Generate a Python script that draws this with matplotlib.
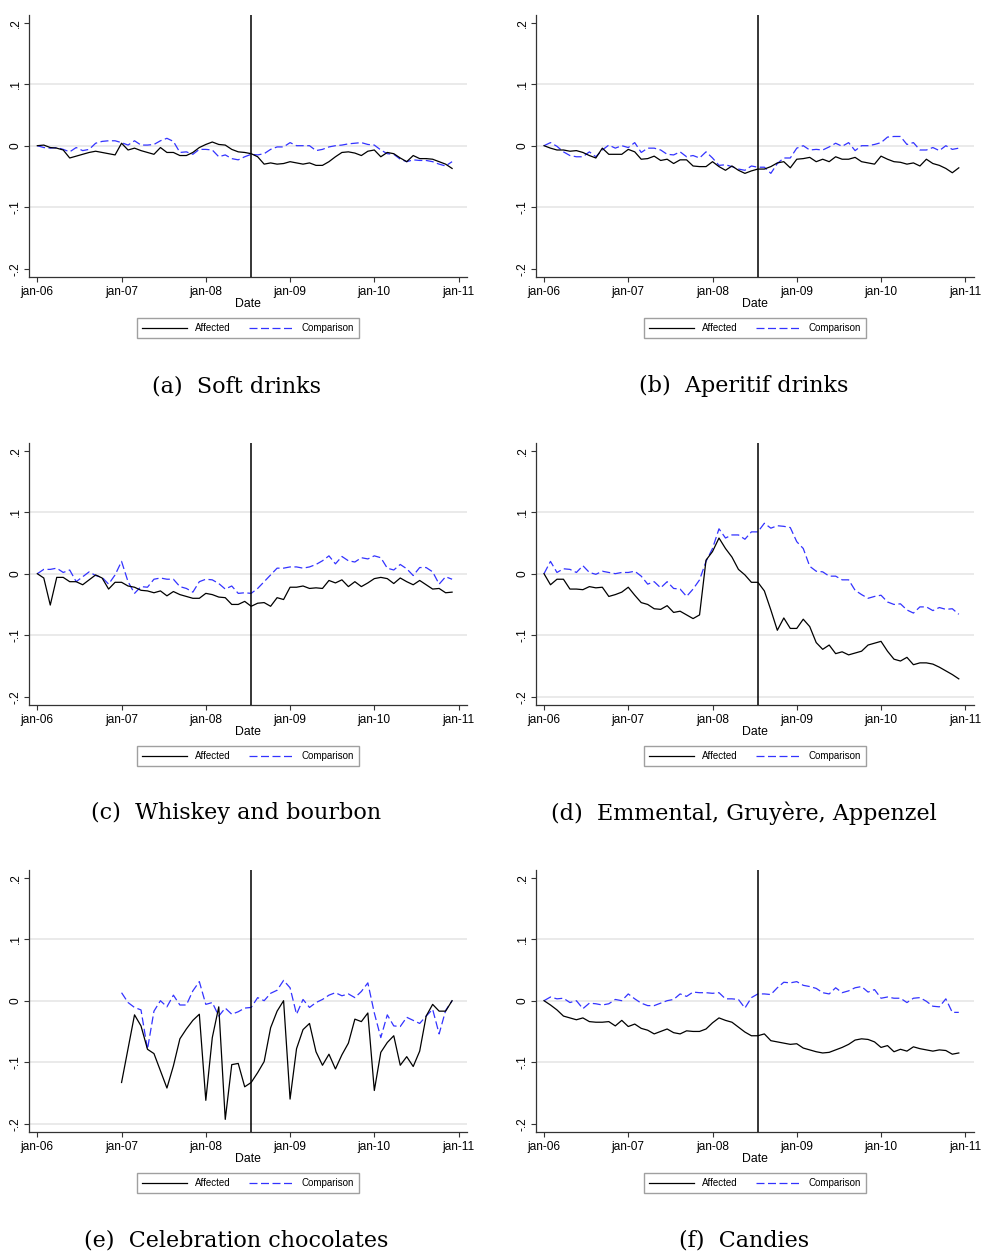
import numpy as np
import matplotlib
matplotlib.use("Agg")
import matplotlib.pyplot as plt

# 4-week periods, 13 per year, jan-06 .. dec-10
n_per = 65
years = [2006, 2007, 2008, 2009, 2010, 2011]
year_labels = ["jan-06", "jan-07", "jan-08", "jan-09", "jan-10", "jan-11"]
y_ticks = [-0.2, -0.1, 0, 0.1, 0.2]
y_labels = ["-.2", "-.1", "0", ".1", ".2"]
event_date = 2008.54

soft_aff = [0, 0.001, -0.003, -0.004, -0.007, -0.02, -0.017, -0.014, -0.011, -0.009,
            -0.011, -0.013, -0.015, 0.004, -0.007, -0.004, -0.008, -0.011, -0.014, -0.003,
            -0.011, -0.011, -0.016, -0.016, -0.011, -0.003, 0.002, 0.006, 0.002, 0.001,
            -0.006, -0.01, -0.011, -0.013, -0.018, -0.03, -0.028, -0.030, -0.029, -0.026,
            -0.028, -0.030, -0.028, -0.032, -0.032, -0.026, -0.018, -0.011, -0.010, -0.012,
            -0.016, -0.009, -0.007, -0.018, -0.011, -0.013, -0.020, -0.026, -0.016, -0.021,
            -0.021, -0.022, -0.026, -0.030, -0.037]
soft_cmp = [0, -0.003, -0.004, -0.003, -0.006, -0.01, -0.003, -0.008, -0.006, 0.004,
            0.007, 0.008, 0.008, 0.005, 0.001, 0.008, 0.001, 0.001, 0.002, 0.008,
            0.012, 0.007, -0.011, -0.01, -0.014, -0.006, -0.006, -0.007, -0.018, -0.015,
            -0.021, -0.023, -0.018, -0.014, -0.015, -0.013, -0.006, -0.002, -0.002, 0.005,
            0.0, 0.0, 0.0, -0.008, -0.006, -0.002, 0.0, 0.001, 0.003, 0.004,
            0.005, 0.002, 0.001, -0.007, -0.013, -0.014, -0.022, -0.026, -0.023, -0.024,
            -0.024, -0.026, -0.030, -0.033, -0.026]

aper_aff = [0, -0.004, -0.007, -0.007, -0.009, -0.008, -0.011, -0.016, -0.02, -0.004,
            -0.014, -0.014, -0.014, -0.006, -0.01, -0.022, -0.021, -0.017, -0.024, -0.022,
            -0.029, -0.023, -0.023, -0.033, -0.034, -0.034, -0.026, -0.034, -0.04, -0.033,
            -0.04, -0.045, -0.041, -0.038, -0.038, -0.034, -0.028, -0.026, -0.036, -0.022,
            -0.021, -0.019, -0.026, -0.022, -0.026, -0.018, -0.022, -0.022, -0.019, -0.026,
            -0.028, -0.030, -0.017, -0.022, -0.026, -0.027, -0.030, -0.028, -0.033, -0.022,
            -0.029, -0.032, -0.037, -0.044, -0.036]
aper_cmp = [0, 0.005, -0.001, -0.01, -0.016, -0.018, -0.018, -0.01, -0.018, -0.007,
            0.001, -0.004, 0.0, -0.003, 0.005, -0.011, -0.004, -0.004, -0.007, -0.014,
            -0.015, -0.01, -0.018, -0.016, -0.02, -0.01, -0.02, -0.032, -0.031, -0.034,
            -0.038, -0.04, -0.033, -0.035, -0.035, -0.045, -0.029, -0.02, -0.02, -0.004,
            0.0, -0.007, -0.006, -0.007, -0.002, 0.004, -0.001, 0.005, -0.008, 0.0,
            0.0, 0.002, 0.005, 0.014, 0.015, 0.015, 0.002, 0.005, -0.007, -0.007,
            -0.003, -0.008, 0.0, -0.006, -0.004]

whisk_aff = [0, -0.007, -0.051, -0.006, -0.006, -0.013, -0.013, -0.018, -0.01, -0.002,
             -0.007, -0.025, -0.014, -0.014, -0.02, -0.022, -0.027, -0.028, -0.031, -0.028,
             -0.036, -0.029, -0.034, -0.037, -0.04, -0.04, -0.032, -0.034, -0.038, -0.039,
             -0.05, -0.05, -0.045, -0.053, -0.048, -0.047, -0.053, -0.039, -0.042, -0.022,
             -0.022, -0.02, -0.024, -0.023, -0.024, -0.011, -0.015, -0.01, -0.021, -0.013,
             -0.021, -0.015, -0.008, -0.006, -0.008, -0.016, -0.007, -0.013, -0.018, -0.011,
             -0.018, -0.025, -0.024, -0.031, -0.030]
whisk_cmp = [0, 0.007, 0.007, 0.009, 0.002, 0.006, -0.013, -0.005, 0.003, -0.003,
             -0.006, -0.017, -0.002, 0.02, -0.013, -0.032, -0.021, -0.022, -0.009, -0.007,
             -0.009, -0.009, -0.021, -0.024, -0.03, -0.013, -0.009, -0.01, -0.016, -0.025,
             -0.02, -0.032, -0.031, -0.032, -0.024, -0.013, -0.002, 0.009, 0.009, 0.011,
             0.011, 0.009, 0.011, 0.015, 0.021, 0.029, 0.016, 0.028, 0.021, 0.019,
             0.026, 0.024, 0.029, 0.026, 0.009, 0.006, 0.015, 0.008, -0.003, 0.01,
             0.01, 0.003, -0.017, -0.005, -0.009]

emm_aff = [0, -0.018, -0.009, -0.009, -0.025, -0.025, -0.026, -0.021, -0.023, -0.022,
           -0.037, -0.034, -0.03, -0.022, -0.035, -0.047, -0.05, -0.057, -0.058, -0.052,
           -0.063, -0.061, -0.067, -0.073, -0.067, 0.022, 0.036, 0.058, 0.041, 0.027,
           0.007, -0.002, -0.014, -0.014, -0.028, -0.059, -0.092, -0.072, -0.089, -0.089,
           -0.074, -0.086, -0.112, -0.123, -0.116, -0.13, -0.127, -0.132, -0.129, -0.126,
           -0.116, -0.113, -0.11, -0.126, -0.139, -0.142, -0.136, -0.148, -0.145, -0.145,
           -0.147, -0.152, -0.158, -0.164, -0.171]
emm_cmp = [0, 0.02, 0.002, 0.008, 0.007, 0.002, 0.013, 0.002, -0.001, 0.004,
           0.002, 0.0, 0.002, 0.002, 0.004, -0.004, -0.017, -0.013, -0.023, -0.013,
           -0.024, -0.025, -0.037, -0.025, -0.01, 0.02, 0.041, 0.073, 0.058, 0.063,
           0.063, 0.056, 0.068, 0.068, 0.082, 0.074, 0.078, 0.077, 0.075, 0.052,
           0.041, 0.012, 0.004, 0.003, -0.004, -0.004, -0.01, -0.01, -0.027, -0.034,
           -0.04, -0.037, -0.035, -0.046, -0.05, -0.049, -0.059, -0.064, -0.054, -0.054,
           -0.06, -0.055, -0.058, -0.057, -0.066]

choc_aff = [None] * 13 + [
    -0.133, -0.078, -0.023, -0.041, -0.079, -0.086, -0.114, -0.142, -0.106, -0.062,
    -0.046, -0.032, -0.022, -0.162, -0.06, -0.01, -0.193, -0.104, -0.102, -0.14,
    -0.133, -0.117, -0.099, -0.044, -0.017, 0.0, -0.16, -0.078, -0.047, -0.037,
    -0.083, -0.105, -0.087, -0.111, -0.088, -0.069, -0.03, -0.034, -0.02, -0.146,
    -0.084, -0.068, -0.057, -0.105, -0.091, -0.107, -0.082, -0.025, -0.006, -0.017,
    -0.017, 0.0]
choc_cmp = [None] * 13 + [
    0.013, -0.003, -0.011, -0.015, -0.079, -0.017, 0.0, -0.01, 0.009, -0.007,
    -0.007, 0.016, 0.031, -0.006, -0.003, -0.025, -0.012, -0.022, -0.018, -0.012,
    -0.011, 0.005, 0.0, 0.012, 0.017, 0.033, 0.021, -0.022, 0.002, -0.011,
    -0.003, 0.002, 0.009, 0.013, 0.008, 0.011, 0.005, 0.015, 0.029, -0.02,
    -0.06, -0.023, -0.041, -0.042, -0.027, -0.032, -0.037, -0.025, -0.014, -0.054,
    -0.016, 0.0]

cand_aff = [0, -0.007, -0.015, -0.025, -0.028, -0.031, -0.028, -0.034, -0.035, -0.035,
            -0.034, -0.041, -0.032, -0.042, -0.038, -0.045, -0.048, -0.054, -0.05, -0.046,
            -0.052, -0.054, -0.049, -0.05, -0.05, -0.046, -0.036, -0.028, -0.032, -0.035,
            -0.043, -0.051, -0.057, -0.057, -0.054, -0.065, -0.067, -0.069, -0.071, -0.07,
            -0.077, -0.08, -0.083, -0.085, -0.084, -0.080, -0.076, -0.071, -0.064, -0.062,
            -0.063, -0.067, -0.076, -0.073, -0.083, -0.079, -0.082, -0.075, -0.078, -0.080,
            -0.082, -0.080, -0.081, -0.087, -0.085]
cand_cmp = [0, 0.006, 0.003, 0.004, -0.003, 0.0, -0.013, -0.004, -0.005, -0.007,
            -0.005, 0.002, 0.0, 0.011, 0.003, -0.004, -0.008, -0.008, -0.004, 0.0,
            0.002, 0.011, 0.007, 0.014, 0.013, 0.013, 0.012, 0.013, 0.003, 0.003,
            0.002, -0.012, 0.005, 0.011, 0.011, 0.01, 0.021, 0.03, 0.029, 0.031,
            0.025, 0.023, 0.02, 0.013, 0.011, 0.021, 0.013, 0.016, 0.021, 0.023,
            0.014, 0.018, 0.004, 0.006, 0.004, 0.004, -0.003, 0.004, 0.005, -0.001,
            -0.009, -0.01, 0.003, -0.019, -0.019]

captions = ["(a)  Soft drinks", "(b)  Aperitif drinks", "(c)  Whiskey and bourbon",
            "(d)  Emmental, Gruyère, Appenzel", "(e)  Celebration chocolates", "(f)  Candies"]
affected = [soft_aff, aper_aff, whisk_aff, emm_aff, choc_aff, cand_aff]
comparison = [soft_cmp, aper_cmp, whisk_cmp, emm_cmp, choc_cmp, cand_cmp]

t = 2006 + np.arange(n_per) / 13.0

W, H = 982, 1255
fig = plt.figure(figsize=(W / 100, H / 100), dpi=100)
plt.rcParams['font.family'] = ['Liberation Sans', 'DejaVu Sans']

col_left = [29.3, 536.0]
row_top = [15.0, 443.0, 870.0]
ax_w, ax_h = 437.7, 262.0
caption_y = [386, 813, 1241]
caption_x = [236, 744]

for i in range(6):
    r, c = i // 2, i % 2
    L, T = col_left[c], row_top[r]
    ax = fig.add_axes([L / W, 1 - (T + ax_h) / H, ax_w / W, ax_h / H])
    aff = np.array(affected[i], dtype=float)
    cmp_ = np.array(comparison[i], dtype=float)

    grid_vals = [-0.1, 0, 0.1]
    if i in (3, 4):
        grid_vals = [-0.2, -0.1, 0, 0.1]
    for g in grid_vals:
        ax.axhline(g, color="#e6e6e6", lw=1.2, zorder=0)

    ax.plot(t, aff, color="black", lw=0.9, zorder=3, label="Affected")
    ln, = ax.plot(t, cmp_, color="#3333ff", lw=0.9, zorder=2, label="Comparison")
    ln.set_dashes([6.4, 2.8])
    ax.axvline(event_date, color="black", lw=1.1, zorder=4)

    ax.set_xlim(2005.905, 2011.1)
    ax.set_ylim(-0.2135, 0.2125)
    ax.set_xticks(years)
    ax.set_xticklabels(year_labels, fontsize=8.6)
    ax.set_yticks(y_ticks)
    ax.set_yticklabels(y_labels, fontsize=8.6, rotation=90, va="center")
    ax.tick_params(axis="both", direction="out", length=3.8, width=0.8, color="#333333", pad=2.5)
    ax.tick_params(axis="y", pad=1.5)
    for s in ["top", "right"]:
        ax.spines[s].set_visible(False)
    for s in ["left", "bottom"]:
        ax.spines[s].set_color("#333333")
        ax.spines[s].set_linewidth(0.9)
    ax.set_xlabel("Date", fontsize=8.8, labelpad=0.5)

    cx = (L + ax_w / 2) / W
    cy = 1 - (T + 313) / H
    leg = ax.legend(loc="center", bbox_to_anchor=(cx, cy), bbox_transform=fig.transFigure,
                    ncol=2, fontsize=7, frameon=True, fancybox=False,
                    handlelength=4.6, handletextpad=0.8, columnspacing=1.9,
                    borderpad=0.55, borderaxespad=0)
    leg.get_frame().set_edgecolor("#888888")
    leg.get_frame().set_linewidth(1.0)

    fig.text(caption_x[c] / W, 1 - caption_y[r] / H, captions[i], ha="center", va="center",
             fontsize=16, family="DejaVu Serif")

fig.savefig("out.png", dpi=100)
